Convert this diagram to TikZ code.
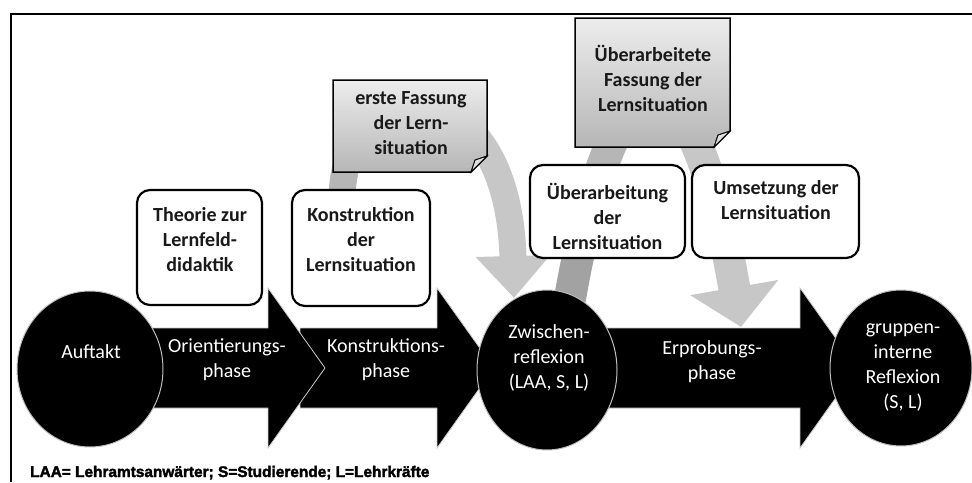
\documentclass[tikz,border=0pt]{standalone}
\usepackage{fontspec}
\setmainfont{Carlito}
\newfontfamily\legendfont{Liberation Sans}[BoldFeatures={FakeBold=2.2}]
\usetikzlibrary{arrows.meta,shapes.geometric}

\definecolor{bandlight}{RGB}{199,199,199}
\definecolor{bandmid}{RGB}{182,182,182}
\definecolor{banddark}{RGB}{162,162,162}
\definecolor{notetop}{RGB}{237,237,237}
\definecolor{notebottom}{RGB}{182,182,182}
\definecolor{inktext}{RGB}{25,25,25}

\begin{document}
\begin{tikzpicture}[x=1pt,y=-1pt,
  boxtxt/.style={font=\bfseries\fontsize{20}{25}\selectfont, align=center, text=inktext, inner sep=0pt},
  phasetxt/.style={font=\fontsize{20}{25}\selectfont, align=center, text=white, inner sep=0pt},
  roundbox/.style={draw=black, line width=2.2pt, fill=white, rounded corners=13pt, inner sep=0pt},
  ellnode/.style={ellipse, fill=black, draw=white!75!black, line width=1pt, inner sep=0pt},
  bigarrow/.style={fill=black, draw=white!80!black, line width=0.8pt},
  notefill/.style={top color=notetop, bottom color=notebottom, draw=black, line width=1.5pt},
  fold/.style={fill=white!88!black, draw=black, line width=1pt},
  bandone/.style={line width=27pt, -{Triangle[width=72pt,length=42pt]}},
  bandtwo/.style={line width=32pt, -{Triangle[width=87pt,length=40pt]}}
]
\useasboundingbox (0,0) rectangle (972,482);

% end points of the two curved feedback arrows
\coordinate (g1a) at (342,200);
\coordinate (g1b) at (514,298);
\coordinate (g2a) at (568,310);
\coordinate (g2b) at (741,327);

% curved grey arrow: construction -> intermediate reflection
\begin{scope}
  \clip (0,0) rectangle (420,482);
  \draw[bandone, draw=bandmid] (g1a) .. controls (342,70) and (508,60) .. (g1b);
\end{scope}
\begin{scope}
  \clip (420,0) rectangle (972,482);
  \draw[bandone, draw=bandlight] (g1a) .. controls (342,70) and (508,60) .. (g1b);
\end{scope}

% curved grey arrow: intermediate reflection -> testing phase
\begin{scope}
  \clip (0,240) rectangle (650,482);
  \draw[bandtwo, draw=banddark] (g2a) .. controls (615,30) and (690,30) .. (g2b);
\end{scope}
\begin{scope}
  \clip (0,0) rectangle (650,240);
  \draw[bandtwo, draw=bandmid] (g2a) .. controls (615,30) and (690,30) .. (g2b);
\end{scope}
\begin{scope}
  \clip (650,0) rectangle (972,482);
  \draw[bandtwo, draw=bandlight] (g2a) .. controls (615,30) and (690,30) .. (g2b);
\end{scope}

% document notes with folded corner
\shade[notefill] (333,80) -- (487,80) -- (487,156) -- (471,172) -- (333,172) -- cycle;
\filldraw[fold] (487,156) -- (471,172) -- (475,160) -- cycle;
\node[boxtxt] (note1) at (411,123) {erste Fassung\\der Lern-\\situation};

\shade[notefill] (575,18) -- (730,18) -- (730,131) -- (714,147) -- (575,147) -- cycle;
\filldraw[fold] (730,131) -- (714,147) -- (718,135) -- cycle;
\node[boxtxt] (note2) at (653,78) {Überarbeitete\\Fassung der\\Lernsituation};

% activity boxes
\node[roundbox, minimum width=125pt, minimum height=115pt] (theo) at (199.5,247.5) {};
\node[boxtxt] (theotxt) at (200,240) {Theorie zur\\Lernfeld-\\didaktik};

\node[roundbox, minimum width=138pt, minimum height=116pt] (konb) at (361,248) {};
\node[boxtxt] (konbtxt) at (361,240) {Konstruktion\\der\\Lernsituation};

\node[roundbox, minimum width=155pt, minimum height=93pt] (ueb) at (607.5,211.5) {};
\node[boxtxt] (uebtxt) at (607.5,216) {Überarbeitung\\der\\Lernsituation};

\node[roundbox, minimum width=167pt, minimum height=93pt] (ums) at (775.5,211.5) {};
\node[boxtxt] (umstxt) at (776,200.5) {Umsetzung der\\Lernsituation};

% phase arrows
\filldraw[bigarrow] (600,328) -- (800,328) -- (800,288) -- (857,368) -- (800,448) -- (800,408) -- (600,408) -- cycle;
\filldraw[bigarrow] (300,328) -- (437,328) -- (437,288) -- (494,368) -- (437,448) -- (437,408) -- (300,408) -- cycle;
\filldraw[bigarrow] (140,328) -- (268,328) -- (268,288) -- (325,368) -- (268,448) -- (268,408) -- (140,408) -- cycle;

% milestones
\node[ellnode, minimum width=146pt, minimum height=156pt] (auf) at (90,369) {};
\node[ellnode, minimum width=140pt, minimum height=160pt] (zw) at (547,370) {};
\node[ellnode, minimum width=142pt, minimum height=156pt] (grp) at (901,368) {};

\node[phasetxt] (auftxt) at (91,352) {Auftakt};
\node[phasetxt] (orient) at (227,359.5) {Orientierungs-\\phase};
\node[phasetxt] (konph) at (386,359.5) {Konstruktions-\\phase};
\node[phasetxt] (zwtxt) at (549,357.5) {Zwischen-\\reflexion\\(LAA, S, L)};
\node[phasetxt] (erpr) at (712,361.5) {Erprobungs-\\phase};
\node[phasetxt] (grptxt) at (903,368) {gruppen-\\interne\\Reflexion\\(S, L)};

% frame
\draw[line width=2.5pt] (11,482) -- (11,14) -- (972,14);

% legend
\node[anchor=base west, inner sep=0pt, font=\legendfont\bfseries\fontsize{15.4}{18}\selectfont] (legend) at (30,477) {LAA= Lehramtsanwärter; S=Studierende; L=Lehrkräfte};
\end{tikzpicture}
\end{document}
